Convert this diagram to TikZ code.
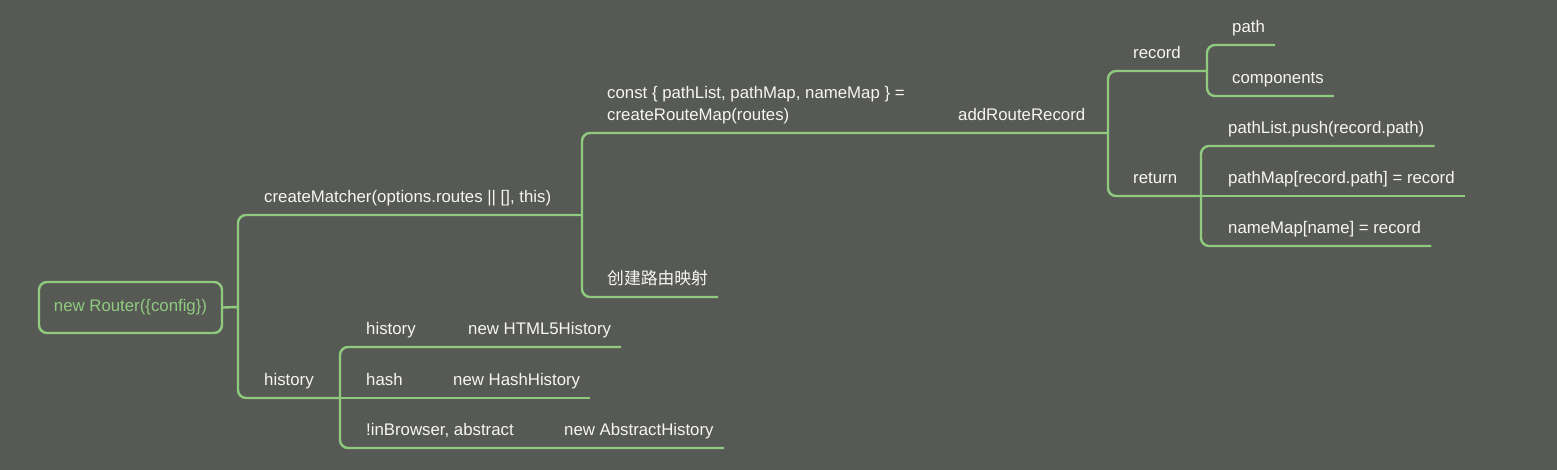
\documentclass[tikz,border=0pt]{standalone}
\usepackage{fontspec}
\setmainfont{Liberation Sans}
\newfontfamily\cjk{Noto Sans CJK SC}
\usetikzlibrary{positioning}
\definecolor{bgdark}{RGB}{87,89,85}
\definecolor{mapgreen}{RGB}{143,203,127}
\definecolor{labelwhite}{RGB}{245,245,245}
\newcommand{\mapfont}{\fontsize{16.8}{22}\selectfont}

\begin{document}
\begin{tikzpicture}[x=1pt,y=-1pt,
  link/.style={draw=mapgreen,line width=2.4pt,rounded corners=8pt},
  topic/.style={anchor=south west,text=labelwhite,inner xsep=10pt,inner ysep=0pt,text depth=12.5pt,font=\mapfont},
  rootbox/.style={draw=mapgreen,line width=2.4pt,rounded corners=8pt,text=mapgreen,minimum width=183pt,minimum height=51pt,font=\mapfont}]
\fill[bgdark] (0,0) rectangle (1557,470);
\useasboundingbox (0,0) rectangle (1557,470);
% root
\node[rootbox] (root) at (130.5,307.5) {new Router(\{config\})};
% forks
\coordinate (f0) at (238,307);
\coordinate (f1) at (582,215);
\coordinate (f2) at (1108,133);
\coordinate (f3) at (1207,71);
\coordinate (f4) at (1201,196);
\coordinate (f5) at (340,398);
% topics
\node[topic] (matcher) at (254,215) {createMatcher(options.routes || [], this)};
\node[topic] (hist) at (254,398) {history};
\node[topic,align=left] (routemap) at (597,133) {const \{ pathList, pathMap, nameMap \} =\\createRouteMap(routes)};
\node[topic] (addrec) at (948,133) {addRouteRecord};
\node[topic] (mapping) at (597,297) {\cjk 创建路由映射};
\node[topic] (rec) at (1123,71) {record};
\node[topic] (ret) at (1123,196) {return};
\node[topic] (path) at (1222,45) {path};
\node[topic] (comp) at (1222,96) {components};
\node[topic] (push) at (1218,146) {pathList.push(record.path)};
\node[topic] (pmap) at (1218,196) {pathMap[record.path] = record};
\node[topic] (nmap) at (1218,246) {nameMap[name] = record};
\node[topic] (modehist) at (356,347) {history};
\node[topic] (html5) at (458,347) {new HTML5History};
\node[topic] (modehash) at (356,398) {hash};
\node[topic] (hashh) at (443,398) {new HashHistory};
\node[topic] (modeabs) at (356,448) {!inBrowser, abstract};
\node[topic] (absh) at (554,448) {new AbstractHistory};
% connectors
\draw[link] (root.east) -- (f0);
\draw[link] (f0) |- (f1);
\draw[link] (f0) |- (f5);
\draw[link] (f1) |- (f2);
\draw[link] (f1) |- (mapping.south east);
\draw[link] (f2) |- (f3);
\draw[link] (f2) |- (ret.south east -| f4);
\draw[link] (f3) |- (path.south east);
\draw[link] (f3) |- (comp.south east);
\draw[link] (f4) |- (push.south east);
\draw[link] (f4) -- (pmap.south east);
\draw[link] (f4) |- (nmap.south east);
\draw[link] (f5) |- (html5.south east);
\draw[link] (f5) -- (hashh.south east);
\draw[link] (f5) |- (absh.south east);
\end{tikzpicture}
\end{document}
